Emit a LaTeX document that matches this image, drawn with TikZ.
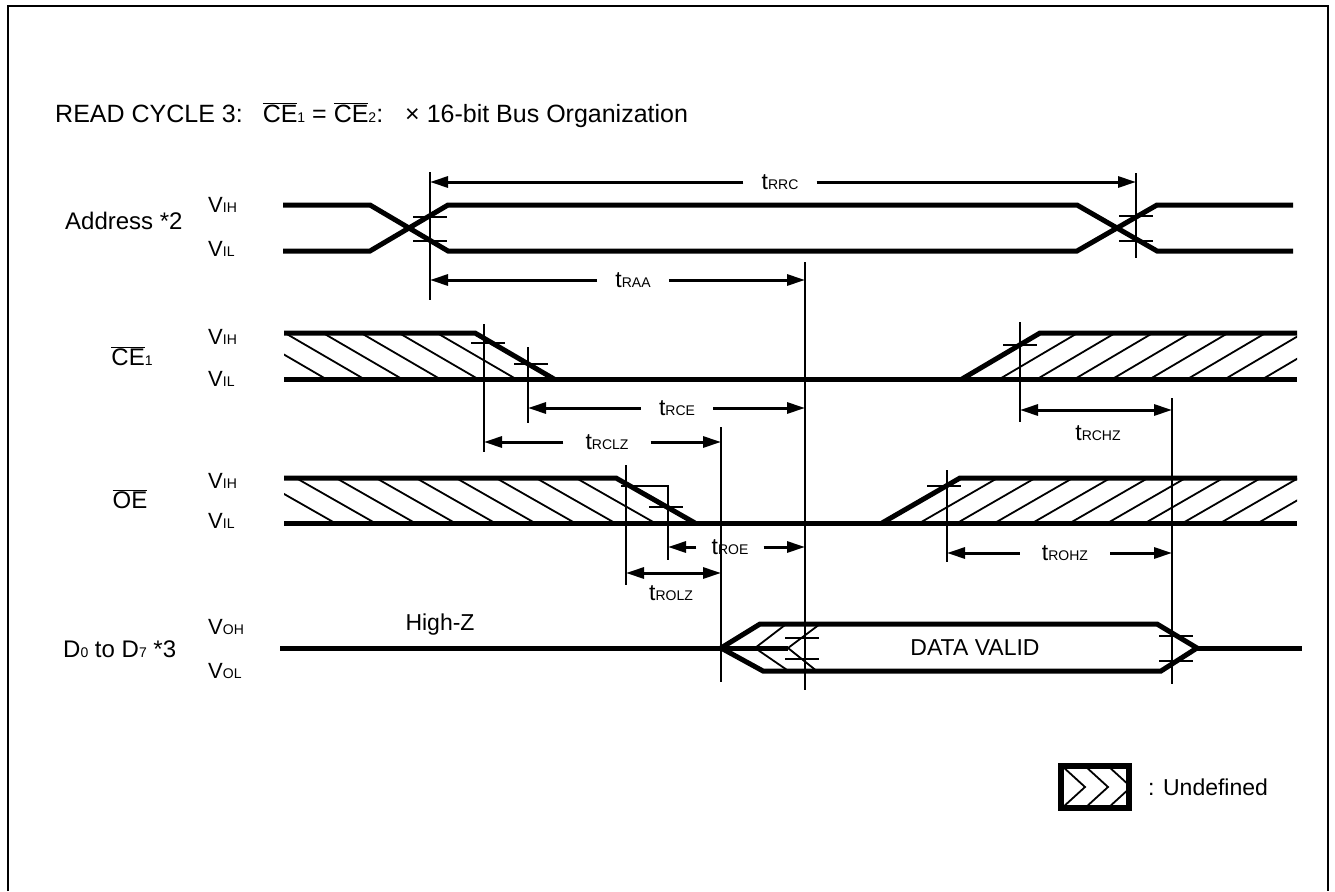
\documentclass[tikz,border=0pt]{standalone}
\usepackage{fontspec}
\setmainfont{Liberation Sans}
\usetikzlibrary{arrows.meta}
\newcommand\ovl[1]{$\overline{\mbox{#1}}$}
\newcommand\sub[1]{{\fontsize{14}{16}\selectfont #1}}
\begin{document}
\begin{tikzpicture}[x=1pt,y=-1pt,
    >={Triangle[length=18pt,width=11pt]},
    sig/.style={line width=5pt},
    ref/.style={line width=2.6pt},
    hatch/.style={line width=1.8pt},
    tarr/.style={line width=3pt,->},
    darr/.style={line width=3pt,<->},
    lbl/.style={font=\fontsize{22}{26}\selectfont,inner sep=0pt},
    sname/.style={font=\fontsize{24}{28}\selectfont,inner sep=0pt},
    tlbl/.style={font=\fontsize{23}{26}\selectfont,inner xsep=18pt,inner ysep=0pt}]
    \useasboundingbox (0,0) rectangle (1335,891);
    \draw[line width=2pt] (8,891) -- (8,6) -- (1328,6) -- (1328,891);
    \node[sname,font=\fontsize{25}{28}\selectfont,anchor=base west] (title) at (55,122) {READ CYCLE 3:\hspace{20pt}\ovl{CE}\sub{1} = \ovl{CE}\sub{2}:\hspace{22pt}× 16-bit Bus Organization};
    % signal names
    \node[sname,anchor=base west] (nAddr) at (65,229) {Address *2};
    \node[sname,anchor=base] (nCE) at (132,365) {\ovl{CE}\sub{1}};
    \node[sname,anchor=base] (nOE) at (130,508) {\ovl{OE}};
    \node[sname,anchor=base west] (nData) at (63,657) {D\sub{0} to D\sub{7} *3};
    \foreach \y/\t in {205/IH,249/IL,337/IH,379/IL,481/IH,521/IL,627/OH,671/OL}
        \node[lbl,anchor=west] at (208,\y) {V\sub{\t}};
    % address
    \draw[sig] (283,205) -- (370,205) -- (448,251) -- (1077,251) -- (1157,205) -- (1293,205);
    \draw[sig] (283,251) -- (370,251) -- (448,205) -- (1077,205) -- (1157,251) -- (1293,251);
    % CE1
    \begin{scope}
        \clip (284,333) -- (475,333) -- (554,379) -- (284,379) -- cycle;
        \foreach \x in {247,285,...,475} \draw[hatch] (\x,333) -- ++(79,46);
    \end{scope}
    \begin{scope}
        \clip (962,379) -- (1040,333) -- (1297,333) -- (1297,379) -- cycle;
        \foreach \k in {0,...,9} \draw[hatch] ({962+37.6*\k},379) -- ++(78,-46);
    \end{scope}
    \draw[sig] (284,333) -- (475,333) -- (554,379);
    \draw[sig] (284,379) -- (1297,379);
    \draw[sig] (962,379) -- (1040,333) -- (1297,333);
    % OE
    \begin{scope}
        \clip (284,478) -- (616,478) -- (695,523) -- (284,523) -- cycle;
        \foreach \x in {256,296,...,616} \draw[hatch] (\x,478) -- ++(79,45);
    \end{scope}
    \begin{scope}
        \clip (882,523) -- (960,478) -- (1297,478) -- (1297,523) -- cycle;
        \foreach \k in {0,...,10} \draw[hatch] ({882+37.6*\k},523) -- ++(78,-45);
    \end{scope}
    \draw[sig] (284,478) -- (616,478) -- (695,523);
    \draw[sig] (284,523) -- (1297,523);
    \draw[sig] (882,523) -- (960,478) -- (1297,478);
    % data
    \node[lbl,font=\fontsize{23}{26}\selectfont] (hiz) at (440,625) {High-Z};
    \draw[sig] (280,648) -- (788,648);
    \draw[hatch] (785,625) -- (755,648) -- (790,672);
    \draw[hatch] (820,624) -- (788,648) -- (818,672);
    \draw[sig] (721,648) -- (760,624) -- (1157,624) -- (1197,648) -- (1161,671) -- (763,671) -- cycle;
    \draw[sig] (1197,648) -- (1302,648);
    \node[lbl,font=\fontsize{23}{26}\selectfont] (valid) at (975,648) {DATA VALID};
    % reference lines and ticks
    \coordinate (vA) at (430,172);
    \coordinate (vB) at (1136,173);
    \coordinate (vC) at (805,262);
    \coordinate (vD) at (484,324);
    \coordinate (vE) at (528,347);
    \coordinate (vF) at (1020,322);
    \coordinate (vG) at (1172,398);
    \coordinate (vH) at (721,427);
    \coordinate (vI) at (626,465);
    \coordinate (vJ) at (668,486);
    \coordinate (vK) at (947,470);
    \foreach \v/\l in {vA/128,vB/85,vC/428,vD/128,vE/76,vF/100,vG/286,vH/255,vI/120,vK/92}
        \draw[ref] (\v) -- ++(0,\l);
    \draw[ref] (621,486) -- (vJ) -- ++(0,74);
    \foreach \x/\y in {430/217,430/241,1136/216,1136/241,488/343,531/364,1020/345,666/507,944/486,802/638,802/659,1176/636,1176/661}
        \draw[ref] (\x-17,\y) -- (\x+17,\y);
    % timing arrows
    \node[tlbl] (lRRC) at (780,182) {t\sub{RRC}};
    \draw[tarr] (lRRC.west) -- (lRRC -| vA);
    \draw[tarr] (lRRC.east) -- (lRRC -| vB);
    \node[tlbl] (lRAA) at (633,280) {t\sub{RAA}};
    \draw[tarr] (lRAA.west) -- (lRAA -| vA);
    \draw[tarr] (lRAA.east) -- (lRAA -| vC);
    \node[tlbl] (lRCE) at (677,408) {t\sub{RCE}};
    \draw[tarr] (lRCE.west) -- (lRCE -| vE);
    \draw[tarr] (lRCE.east) -- (lRCE -| vC);
    \node[tlbl,inner xsep=22pt] (lRCLZ) at (607,442) {t\sub{RCLZ}};
    \draw[tarr] (lRCLZ.west) -- (lRCLZ -| vD);
    \draw[tarr] (lRCLZ.east) -- (lRCLZ -| vH);
    \node[tlbl,inner xsep=15pt] (lROE) at (730,547) {t\sub{ROE}};
    \draw[tarr] (lROE.west) -- (lROE -| vJ);
    \draw[tarr] (lROE.east) -- (lROE -| vC);
    \node[tlbl,inner xsep=22pt] (lROHZ) at (1065,553) {t\sub{ROHZ}};
    \draw[tarr] (lROHZ.west) -- (lROHZ -| vK);
    \draw[tarr] (lROHZ.east) -- (lROHZ -| vG);
    \coordinate (hzL) at (1020,410);
    \coordinate (hzR) at (1172,410);
    \draw[darr] (hzL) -- (hzR);
    \node[tlbl] (lRCHZ) at (1098,433) {t\sub{RCHZ}};
    \coordinate (olL) at (626,573);
    \coordinate (olR) at (721,573);
    \draw[darr] (olL) -- (olR);
    \node[tlbl] (lROLZ) at (671,593) {t\sub{ROLZ}};
    % legend
    \begin{scope}
        \clip (1061,766) rectangle (1129,808);
        \foreach \x in {1062,1085,1108} \draw[hatch] (\x,766) -- ++(23,21) -- ++(-23,21);
    \end{scope}
    \draw[line width=6pt] (1061,766) rectangle (1129,808);
    \node[lbl,font=\fontsize{23}{26}\selectfont,anchor=west] (undef) at (1148,787) {: Undefined};
\end{tikzpicture}
\end{document}
